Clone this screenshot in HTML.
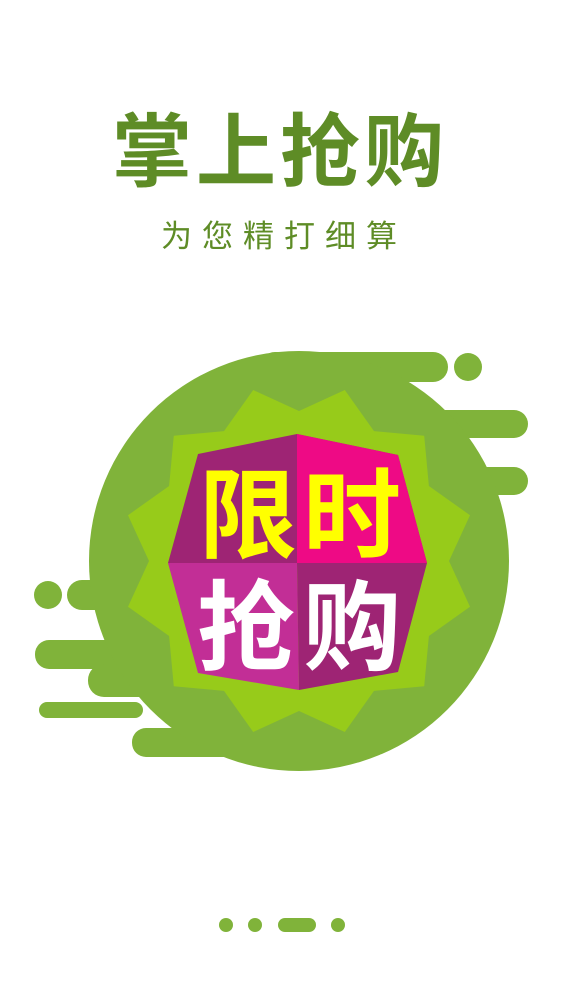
<!DOCTYPE html>
<html><head><meta charset="utf-8"><style>
html,body{margin:0;padding:0;background:#fff;width:563px;height:1001px;overflow:hidden}
svg{display:block}
</style></head><body>
<svg width="563" height="1001" viewBox="0 0 563 1001">
<text x="280" y="180" text-anchor="middle" font-family="'Liberation Sans','Noto Sans CJK SC',sans-serif" font-size="80" font-weight="bold" fill="#5e8c26" letter-spacing="4">掌上抢购</text>
<text x="284" y="247" text-anchor="middle" font-family="'Liberation Sans','Noto Sans CJK SC',sans-serif" font-size="31" fill="#5e8c26" letter-spacing="10">为您精打细算</text>
<g fill="#80b33a">
<rect x="260" y="352" width="188" height="30" rx="15"/>
<circle cx="468" cy="367" r="14"/>
<rect x="380" y="410" width="148" height="28" rx="14"/>
<rect x="420" y="467" width="108" height="28" rx="14"/>
<circle cx="48" cy="595" r="14"/>
<rect x="67" y="580" width="100" height="30" rx="15"/>
<rect x="35" y="640" width="140" height="29" rx="14"/>
<rect x="88" y="664" width="100" height="33" rx="16"/>
<rect x="39" y="702" width="104" height="16" rx="8"/>
<rect x="132" y="728" width="200" height="29" rx="14"/>
</g>
<circle cx="299" cy="561" r="210" fill="#80b33a"/>
<polygon id="star" fill="#97cb1a"/>
<g>
<polygon points="297,434 398,455 427,563 297,563 168,563 198,454" fill="#9e2474"/>
<polygon points="297,434 398,455 427,563 297,563" fill="#ee0a85"/>
<polygon points="168,563 297,563 299,690 198,673" fill="#c22e96"/>
<polygon points="297,563 427,563 398,672 299,690" fill="#9e2474"/>
</g>
<g font-family="'Liberation Sans','Noto Sans CJK SC',sans-serif" font-weight="bold" font-size="98" text-anchor="middle">
<text x="248" y="550" fill="#ffff00">限</text>
<text x="352" y="550" fill="#ffff00">时</text>
<text x="246" y="662" fill="#ffffff">抢</text>
<text x="352" y="662" fill="#ffffff">购</text>
</g>
<g fill="#80b33a">
<circle cx="226" cy="925" r="7"/>
<circle cx="255" cy="925" r="7"/>
<rect x="278" y="918" width="38" height="14" rx="7"/>
<circle cx="338" cy="925" r="7"/>
</g>
</svg>
<script>
var pts=[],cx=299,cy=561;
for(var k=0;k<24;k++){var a=(k*15)*Math.PI/180,r=(k%2)?177:150;
pts.push((cx+r*Math.sin(a)).toFixed(1)+','+(cy-r*Math.cos(a)).toFixed(1));}
document.getElementById('star').setAttribute('points',pts.join(' '));
</script>
</body></html>
